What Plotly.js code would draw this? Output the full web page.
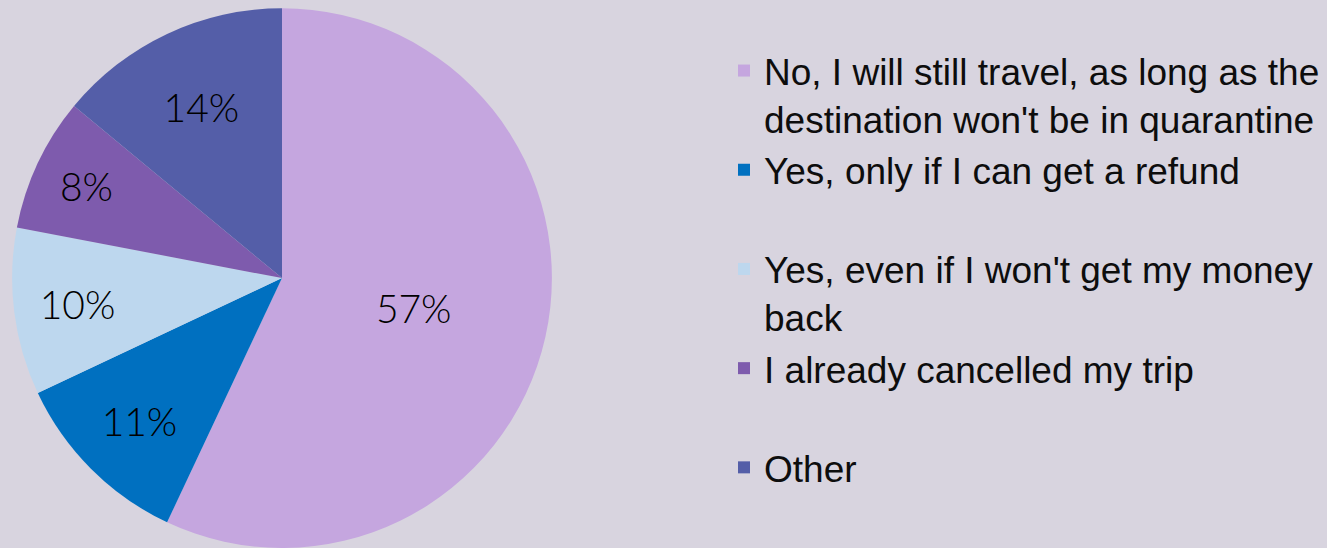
<!DOCTYPE html>
<html>
<head>
<meta charset="utf-8">
<script src="https://cdn.plot.ly/plotly-3.0.1.min.js"></script>
<style>html,body{margin:0;padding:0;background:#D8D4DF;}#chart{width:1327px;height:548px;}</style>
</head>
<body>
<div id="chart"></div>
<script>
const categories = [
  "No, I will still travel, as long as the<br>destination won't be in quarantine",
  "Yes, only if I can get a refund<br> ",
  "Yes, even if I won't get my money<br>back",
  "I already cancelled my trip<br> ",
  "Other"
];
const shares = [57, 11, 10, 8, 14];
const sliceColors = ["#C5A6DF", "#0070C0", "#BDD7EE", "#7E5BAD", "#545EA8"];

const trace = {
  type: "pie",
  labels: categories,
  values: shares,
  sort: false,
  direction: "clockwise",
  rotation: 0,
  marker: {colors: sliceColors, line: {width: 0}},
  textinfo: "percent",
  textposition: "inside",
  insidetextorientation: "horizontal",
  insidetextfont: {family: "Lato", size: 39, color: "#000000", weight: 300},
  hoverinfo: "none",
  domain: {x: [11/1327, 553/1327], y: [0, 0.985]}
};

const layout = {
  width: 1327, height: 548,
  margin: {l: 0, r: 0, t: 0, b: 0},
  paper_bgcolor: "#D8D4DF",
  plot_bgcolor: "#D8D4DF",
  showlegend: true,
  legend: {
    x: 724/1327, xanchor: "left",
    y: 1 - 40/548, yanchor: "top",
    valign: "top",
    bgcolor: "rgba(0,0,0,0)",
    font: {family: "Liberation Sans, Arial, sans-serif", size: 37, color: "#0d0d0d"},
    traceorder: "normal"
  }
};

Plotly.newPlot("chart", [trace], layout, {displayModeBar: false, staticPlot: true});
</script>
</body>
</html>
